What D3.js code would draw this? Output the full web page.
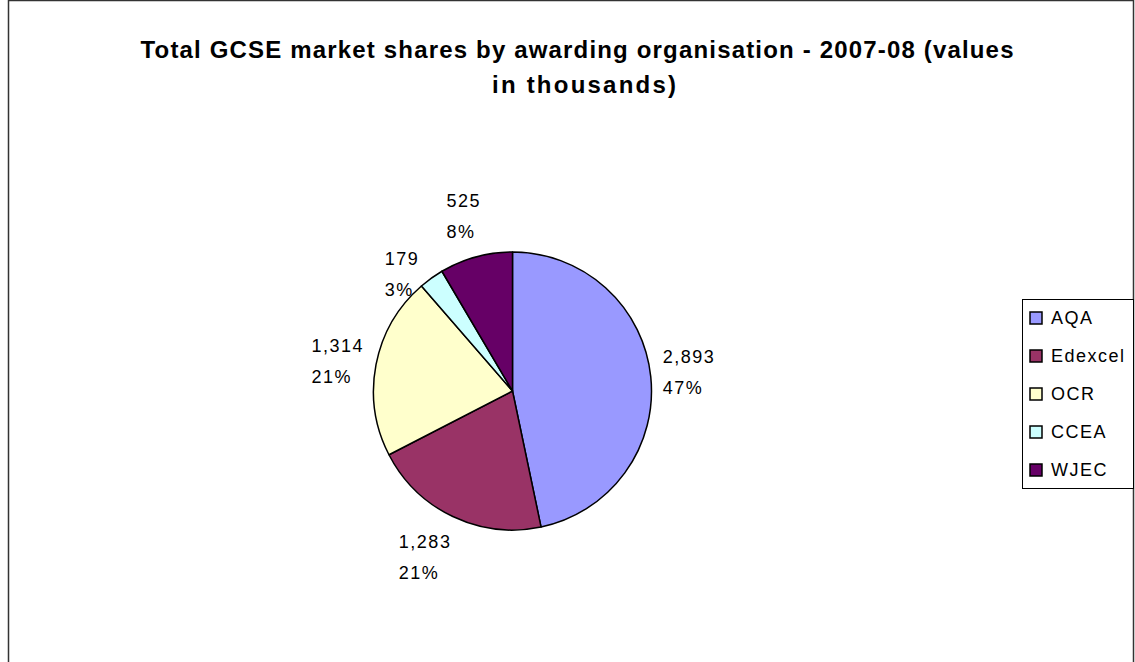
<!DOCTYPE html>
<html>
<head>
<meta charset="utf-8">
<script src="https://cdn.jsdelivr.net/npm/d3@7"></script>
<style>
  body { margin: 0; background: #fff; }
  text { font-family: "Liberation Sans", Arial, sans-serif; fill: #000; }
</style>
</head>
<body>
<div id="chart"></div>
<script>
// data (values in thousands)
let organisations = ['AQA', 'Edexcel', 'OCR', 'CCEA', 'WJEC'];
let entries = [2893, 1283, 1314, 179, 525];
let colours = ['#9999FF', '#993366', '#FFFFCC', '#CCFFFF', '#660066'];
let titleLines = ['Total GCSE market shares by awarding organisation - 2007-08 (values', 'in thousands)'];

let svgwidth = 1135;
let svgheight = 662;

let svg = d3.select('#chart')
    .append('svg')
    .attr('width', svgwidth)
    .attr('height', svgheight);

// chart area border
svg.append('rect')
    .attr('x', 8.5)
    .attr('y', 0.5)
    .attr('width', 1125)
    .attr('height', 700)
    .attr('fill', '#fff')
    .attr('stroke', '#333')
    .attr('stroke-width', 1.5);

// title, stretched to the widths seen in the picture
let titleWidths = [873, 184];
let titleCentres = [577, 584];
svg.selectAll('.title')
    .data(titleLines)
    .enter()
    .append('text')
    .classed('title', true)
    .attr('x', (d, i) => titleCentres[i])
    .attr('y', (d, i) => 58 + i * 35)
    .attr('text-anchor', 'middle')
    .attr('font-size', '24px')
    .attr('font-weight', 'bold')
    .attr('textLength', (d, i) => titleWidths[i])
    .attr('lengthAdjust', 'spacing')
    .text(d => d);

let total = d3.sum(entries);
let pieData = organisations.map((name, i) => ({name: name, value: entries[i], colour: colours[i]}));

let cx = 512.5, cy = 391, radius = 139;

let pie = d3.pie()
    .value(d => d.value)
    .sort(null);

let arc = d3.arc()
    .innerRadius(0)
    .outerRadius(radius);

let arcs = pie(pieData);

let piegroup = svg.append('g')
    .attr('transform', `translate(${cx}, ${cy})`);

piegroup.selectAll('path')
    .data(arcs)
    .enter()
    .append('path')
    .attr('d', arc)
    .attr('fill', d => d.data.colour)
    .attr('stroke', '#000')
    .attr('stroke-width', 1.5)
    .attr('stroke-linejoin', 'round');

// data labels: value and percentage, placed just outside the slice edge
let fmtValue = d3.format(',');
let fmtPct = d3.format('.0%');
let lineGap = 31;

arcs.forEach(function(d) {
    let a = (d.startAngle + d.endAngle) / 2;
    let ux = Math.sin(a), uy = -Math.cos(a);
    let px = ux * radius, py = uy * radius;

    let lg = piegroup.append('g');
    let lines = [fmtValue(d.data.value), fmtPct(d.data.value / total)];
    let texts = lg.selectAll('text')
        .data(lines)
        .enter()
        .append('text')
        .attr('font-size', '18px')
        .attr('letter-spacing', '1.5px')
        .attr('dy', '0.35em')
        .text(t => t);

    let w = d3.max(texts.nodes(), n => n.getComputedTextLength());
    let hw = w / 2, hh = lineGap;
    let bx, by;
    if (Math.abs(ux) > 0.5) {
        // side labels sit beside the point
        bx = px + Math.sign(ux) * (12 + hw);
        by = py - 4;
    } else {
        // top / bottom labels sit above or below the point
        bx = px + ux * (12 + 2 * hw);
        by = py + Math.sign(uy) * (10 + hh);
    }
    texts.attr('x', bx - hw)
        .attr('y', (t, i) => by + (i - 0.5) * lineGap);
});

// legend
let legend = svg.append('g')
    .attr('transform', 'translate(1022, 299)');

legend.append('rect')
    .attr('x', 0.5)
    .attr('y', 0.5)
    .attr('width', 111)
    .attr('height', 189)
    .attr('fill', '#fff')
    .attr('stroke', '#000')
    .attr('stroke-width', 1);

let items = legend.selectAll('.item')
    .data(pieData)
    .enter()
    .append('g')
    .classed('item', true)
    .attr('transform', (d, i) => `translate(0, ${19 + i * 38})`);

items.append('rect')
    .attr('x', 8)
    .attr('y', -6)
    .attr('width', 12)
    .attr('height', 12)
    .attr('fill', d => d.colour)
    .attr('stroke', '#000')
    .attr('stroke-width', 1.5);

items.append('text')
    .attr('x', 29)
    .attr('dy', '0.35em')
    .attr('font-size', '18px')
    .attr('letter-spacing', '1.5px')
    .text(d => d.name);
</script>
</body>
</html>
